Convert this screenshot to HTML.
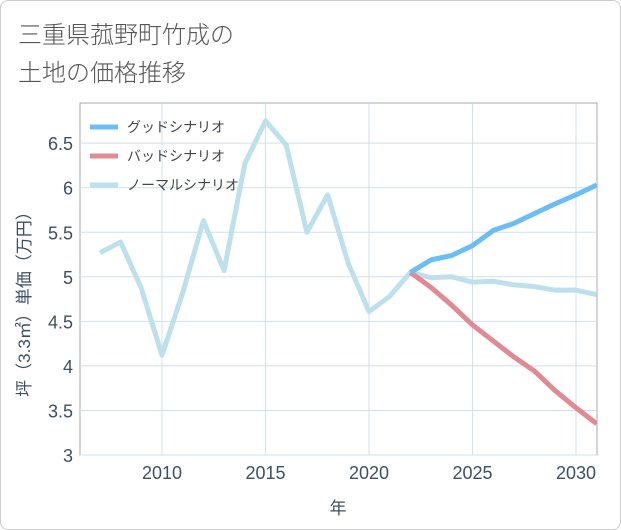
<!DOCTYPE html>
<html><head><meta charset="utf-8"><style>
html,body{margin:0;padding:0;background:#fff;}
#wrap{position:relative;width:619px;height:528px;border:1px solid #ccc;border-radius:8px;overflow:hidden;font-family:"Liberation Sans","Noto Sans CJK JP",sans-serif;}
.title{position:absolute;left:17px;font-size:24px;color:#555;font-weight:300;}
</style></head><body>
<div id="wrap">
<div class="title" style="top:14px">三重県菰野町竹成の</div>
<div class="title" style="top:52px">土地の価格推移</div>
<svg id="chart" width="621" height="530" style="position:absolute;left:-1px;top:-1px"></svg>
</div>
<script>
const years=[2007,2008,2009,2010,2011,2012,2013,2014,2015,2016,2017,2018,2019,2020,2021,2022,2023,2024,2025,2026,2027,2028,2029,2030,2031];
const normal=[5.27,5.39,4.87,4.12,4.82,5.63,5.07,6.27,6.75,6.48,5.50,5.92,5.15,4.61,4.78,5.05,4.99,5.00,4.94,4.95,4.91,4.89,4.85,4.85,4.80];
const goodYears=[2022,2023,2024,2025,2026,2027,2028,2029,2030,2031];
const good=[5.05,5.19,5.24,5.35,5.52,5.60,5.71,5.82,5.92,6.03];
const bad=[5.05,4.88,4.68,4.46,4.28,4.10,3.94,3.72,3.53,3.35];
const xTicks=[2010,2015,2020,2025,2030];
const yTicks=[3,3.5,4,4.5,5,5.5,6,6.5];
const yLabels=["3","3.5","4","4.5","5","5.5","6","6.5"];
const L=80,R=597,T=103,B=455;
const x=v=>162+(v-2010)*20.7;
const y=v=>455-(v-3)*89.1;
const svg=document.getElementById('chart');
const NS='http://www.w3.org/2000/svg';
function mk(tag,attrs){const e=document.createElementNS(NS,tag);for(const k in attrs)e.setAttribute(k,attrs[k]);svg.appendChild(e);return e;}
let e=mk('rect',{x:L,y:T,width:R-L,height:B-T,fill:'#fff',stroke:'#aaa','stroke-width':1});


yTicks.forEach((t,i)=>{
 let g=mk('line',{x1:L,x2:R,y1:y(t),y2:y(t),stroke:'#cfe0ec','stroke-width':1});
 
 
 let tx=mk('text',{x:L-7,y:y(t)+7,'text-anchor':'end','font-size':18,fill:'#3d4f66'});
 tx.textContent=yLabels[i];
 
 
});
xTicks.forEach(t=>{
 let g=mk('line',{x1:x(t),x2:x(t),y1:T,y2:B,stroke:'#cfe0ec','stroke-width':1});
 
 
 let tx=mk('text',{x:x(t),y:479,'text-anchor':'middle','font-size':18,fill:'#3d4f66'});
 tx.textContent=t;
 
 
});
function line(xs,vs,color,name){
 const p=mk('polyline',{points:xs.map((yr,i)=>x(yr)+','+y(vs[i])).join(' '),fill:'none',stroke:color,'stroke-width':5,'stroke-linejoin':'round'});
 
 
}
const clip=mk('clipPath',{id:'cp'});svg.removeChild(clip);
const defs=mk('defs',{});defs.appendChild(clip);
const cr=document.createElementNS(NS,'rect');cr.setAttribute('x',L);cr.setAttribute('y',T);cr.setAttribute('width',R-L);cr.setAttribute('height',B-T);clip.appendChild(cr);
line(years,normal,'#bde0ec','normal-scenario-line');
line(goodYears,bad,'#e08a94','bad-scenario-line');
line(goodYears,good,'#6bbdf5','good-scenario-line');
svg.querySelectorAll('polyline').forEach(p=>p.setAttribute('clip-path','url(#cp)'));
const legend=[['グッドシナリオ','#6bbdf5'],['バッドシナリオ','#e08a94'],['ノーマルシナリオ','#bde0ec']];
legend.forEach((l,i)=>{
 const yy=127+i*29;
 let ln=mk('line',{x1:90,x2:118,y1:yy,y2:yy,stroke:l[1],'stroke-width':5});
 
 
 let tx=mk('text',{x:127,y:yy+5,'font-size':14,fill:'#444'});
 tx.textContent=l[0];
 
 
});
let xt=mk('text',{x:338,y:514,'text-anchor':'middle','font-size':17,fill:'#3d4f66'});
xt.textContent='年';


let yt=mk('text',{x:0,y:0,'text-anchor':'middle','font-size':17,fill:'#3d4f66',transform:'translate(30,300) rotate(-90)'});
yt.textContent='坪（3.3㎡）単価（万円）';


</script>
</body></html>
